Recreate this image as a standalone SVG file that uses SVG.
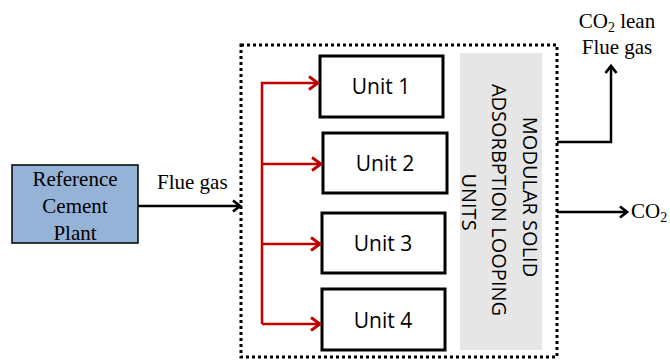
<svg xmlns="http://www.w3.org/2000/svg" width="670" height="361" viewBox="0 0 670 361">
  <style>
    .serif { font-family: "Liberation Serif", "Times New Roman", serif; font-size: 21px; fill: #000; }
    .sans { font-family: "Open Sans", "Liberation Sans", sans-serif; fill: #000; }
    .unit rect { fill: #fff; stroke: #000; stroke-width: 3; }
    .unit text { font-size: 21px; text-anchor: middle; }
    .black { fill: none; stroke: #000; stroke-width: 2.5; }
    .red { fill: none; stroke: #c00000; stroke-width: 2.5; }
  </style>
  <defs>
    <marker id="arrowBlack" markerWidth="14" markerHeight="14" refX="10" refY="7" orient="auto" markerUnits="userSpaceOnUse">
      <path d="M3,1.5 L10,7 L3,12.5" fill="none" stroke="#000" stroke-width="2.8"/>
    </marker>
    <marker id="arrowRed" markerWidth="16" markerHeight="16" refX="12" refY="8" orient="auto" markerUnits="userSpaceOnUse">
      <path d="M3,1.5 L12,8 L3,14.5" fill="none" stroke="#c00000" stroke-width="2.8"/>
    </marker>
  </defs>

  <rect width="670" height="361" fill="#fff"/>

  <!-- source plant -->
  <g id="plant">
    <rect x="12" y="165" width="126" height="78" fill="#95b3d7" stroke="#000" stroke-width="1.5"/>
    <text class="serif" x="75" y="186" text-anchor="middle">Reference</text>
    <text class="serif" x="75" y="213" text-anchor="middle">Cement</text>
    <text class="serif" x="75" y="240" text-anchor="middle">Plant</text>
  </g>

  <!-- modular system boundary -->
  <g id="system">
    <rect x="241" y="45" width="316" height="312" fill="none" stroke="#000" stroke-width="3" stroke-dasharray="3 3"/>
  </g>

  <!-- label panel -->
  <g id="label-panel">
    <rect x="460" y="53" width="82" height="297" fill="#e6e6e6"/>
    <text class="sans" font-size="20" text-anchor="middle" transform="translate(523,197) rotate(90)">MODULAR SOLID</text>
    <text class="sans" font-size="20" text-anchor="middle" transform="translate(492,200) rotate(90)">ADSORBPTION LOOPING</text>
    <text class="sans" font-size="20" text-anchor="middle" transform="translate(462,202) rotate(90)">UNITS</text>
  </g>

  <!-- units -->
  <g id="unit1" class="unit sans">
    <rect x="320" y="56" width="123" height="61"/>
    <text x="381" y="94">Unit 1</text>
  </g>
  <g id="unit2" class="unit sans">
    <rect x="323" y="133" width="124" height="60"/>
    <text x="385" y="171">Unit 2</text>
  </g>
  <g id="unit3" class="unit sans">
    <rect x="322" y="213" width="123" height="60"/>
    <text x="383" y="251">Unit 3</text>
  </g>
  <g id="unit4" class="unit sans">
    <rect x="322" y="289" width="123" height="61"/>
    <text x="383" y="328">Unit 4</text>
  </g>

  <!-- connectors -->
  <g id="connectors">
    <path class="black" d="M138,206 H240" marker-end="url(#arrowBlack)"/>
    <path class="red" d="M262,324 V83 H318" marker-end="url(#arrowRed)"/>
    <path class="red" d="M262,164 H321" marker-end="url(#arrowRed)"/>
    <path class="red" d="M262,244 H320" marker-end="url(#arrowRed)"/>
    <path class="red" d="M262,324 H320" marker-end="url(#arrowRed)"/>
    <path class="black" d="M557,142 H611 V66" marker-end="url(#arrowBlack)"/>
    <path class="black" d="M557,212 H627" marker-end="url(#arrowBlack)"/>
  </g>

  <!-- stream labels -->
  <g id="labels">
    <text class="serif" x="617" y="28" text-anchor="middle">CO<tspan font-size="14" dy="4">2</tspan><tspan dy="-4"> lean</tspan></text>
    <text class="serif" x="617" y="54" text-anchor="middle">Flue gas</text>
    <text class="serif" x="157" y="189">Flue gas</text>
    <text class="serif" x="631" y="218">CO<tspan font-size="14" dy="4">2</tspan></text>
  </g>
</svg>
